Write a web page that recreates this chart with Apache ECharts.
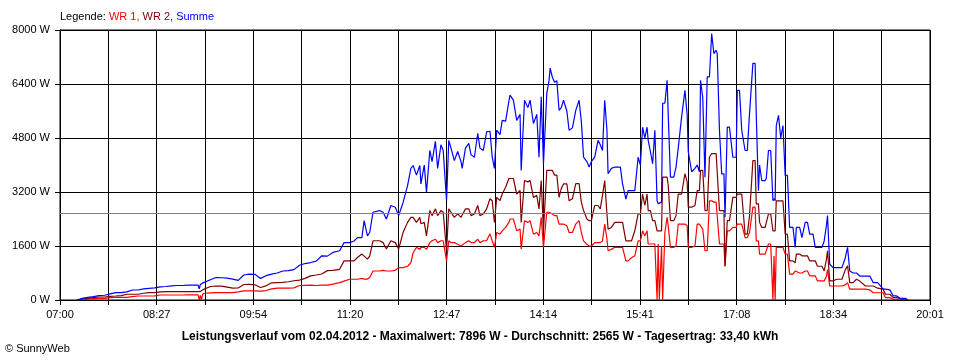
<!DOCTYPE html>
<html>
<head>
<meta charset="utf-8">
<script src="https://cdn.jsdelivr.net/npm/echarts@6/dist/echarts.min.js"></script>
<style>
html,body{margin:0;padding:0;background:#fff;}
#chart{width:960px;height:360px;}
</style>
</head>
<body>
<div id="chart"></div>
<script>
// ---- tick labels ----
const xTickLabels = ['07:00','08:27','09:54','11:20','12:47','14:14','15:41','17:08','18:34','20:01'];
const axisSpanMinutes = 781;      // 07:00 .. 20:01
const axisDivisions = 18;         // vertical grid lines
const yMax = 8000;
const yInterval = 1600;

// ---- data: minutes after 07:00 ----
const minutes = [
  15,20,25,30,35,40,45,50,55,60,
  65,70,75,80,85,90,95,100,105,110,
  115,120,124,125,126,127,128,130,135,140,
  145,150,155,160,165,170,175,180,185,190,
  195,200,205,210,215,220,225,230,235,240,
  245,
  251,255,260,264,267,271,273,276,278,281,
  287,290,293,297,301,304,308,312,315,317,
  320,323,324,327,329,332,334,337,339,342,
  344,347,349,351,354,357,360,361,364,367,
  369,372,375,377,380,383,386,388,390,392,
  395,397,400,403,404,407,410,413,414,417,
  420,422,425,428,430,432,434,437,439,440,
  442,444,446,448,450,452,455,457,460,463,
  466,468,470,473,475,477,480,483,485,487,
  489,491,492,495,498,501,503,505,508,510,
  513,516,519,521,523,525,527,528,530,532,
  534,536,537,538,540,541,543,545,546,548,
  551,553,555,558,561,563,564,567,570,572,
  574,575,577,579,581,583,585,587,589,590,
  592,594,596,597,598,599,601,604,607,608,
  610,612,615,617,619,622,624,625,627,628,
  630,633,634,636,638,640,641,642,643,645,
  647,649,651,653,655,658,660,661,664,666,
  669,671,673,676,678,680,684,686,688,689,
  691,694,697,702,705,707,709,712,715,718,
  723,727,730,734,739,741,745,748,751,754,
  759,761
];

// WR 1 (W)
const wr1 = [
  0,20,30,40,50,50,70,80,80,80,
  100,119,119,119,125,148,148,148,148,148,
  150,150,150,0,140,0,170,200,210,220,
  220,220,220,240,270,270,270,265,280,330,
  350,350,350,360,430,435,440,430,440,440,
  470,
  515,560,615,615,615,640,620,620,665,860,
  860,880,860,860,880,960,960,1000,1110,1400,
  1560,1500,1560,1560,1500,1700,1755,1800,1700,1755,
  1755,1160,1755,1700,1700,1650,1600,1600,1700,1755,
  1700,1700,1800,1700,1755,1760,1960,1750,1560,2000,
  1950,2050,2150,2300,2400,2400,2050,2100,1510,2350,
  2300,2350,1950,2000,1900,2450,1560,2600,2600,2600,
  2550,2500,2500,2250,2250,2250,2200,2000,2000,2250,
  2350,2000,1750,1650,1600,1600,1700,1700,1700,1750,
  2250,1800,1460,1500,1560,1560,1560,1560,1160,1160,
  1250,1310,1750,1750,2050,1900,2050,1660,1660,1660,
  1660,0,1660,0,1600,0,2000,2450,2200,1560,
  1560,1600,2250,2250,2250,2200,1560,1560,1600,2250,
  2250,2250,2100,1460,1460,2940,2940,2900,2900,2900,
  1660,1660,1660,1000,1000,2050,2050,2150,2150,2250,
  2250,2250,1850,1850,2000,2750,2750,1750,1750,1360,
  1360,1360,1400,1660,1660,0,1300,0,1560,1560,
  1560,1560,1360,1360,765,765,860,860,800,800,
  860,860,715,715,715,565,565,565,700,900,
  415,415,415,415,450,515,320,320,320,320,
  320,300,215,215,215,70,70,20,20,20,
  10,0
];

// WR 2 (W)
const wr2 = [
  0,30,50,70,89,89,110,119,130,170,
  170,170,200,217,217,240,247,247,247,247,
  250,250,250,240,255,250,300,330,400,415,
  410,380,350,355,460,465,450,370,420,510,
  515,520,540,570,590,640,715,740,770,870,
  880,
  910,1160,1160,1160,1260,1360,1300,1210,1300,1755,
  1755,1700,1510,1755,1700,1510,2000,2300,2450,2450,
  2300,2450,2260,2300,1900,2650,2500,2700,2500,2650,
  2600,1460,2700,2600,2450,2550,2450,2400,2700,2700,
  2500,2550,2800,2500,2550,2700,3000,2940,2300,3040,
  2950,3140,3340,3600,3640,3600,3140,3250,2300,3540,
  3500,3540,3040,3100,2700,3540,2050,3840,3840,3800,
  3840,3700,3700,3040,3300,3440,3440,2940,3000,3450,
  3450,2900,2650,2400,2350,2350,2800,2800,2700,3100,
  3540,2550,2100,2150,2300,2300,2300,2300,1750,1750,
  1750,2050,2550,2550,3140,2800,3140,2650,2650,2350,
  2350,2050,2050,2050,2050,3640,3640,3640,3400,2350,
  2350,2500,3140,3140,3740,3500,2750,2750,2800,3240,
  3240,3840,3840,2650,2650,4230,4340,4340,4340,4300,
  2650,2650,2650,1000,1000,2350,2350,3040,3040,3140,
  3140,3140,1950,1950,2500,4130,4130,2850,2850,2300,
  2150,2150,2200,2550,2550,2050,2050,2050,2940,2940,
  2940,2940,1950,1950,1160,1160,1100,1360,1360,1310,
  1310,1310,1160,1160,1160,1000,1000,860,1200,1460,
  565,565,615,615,900,1010,515,515,615,560,
  415,415,415,350,320,170,170,70,70,50,
  20,0
];

// Summe (W)
const summe = [
  0,50,80,100,128,140,180,217,217,240,
  296,296,330,346,360,390,400,420,430,430,
  440,440,440,330,460,420,500,530,600,665,
  660,650,620,580,740,765,760,640,720,765,
  800,860,870,900,1030,1080,1110,1150,1310,1300,
  1410,
  1460,1700,1700,1750,1850,1850,2350,1900,2000,2600,
  2650,2600,2400,2800,2750,2500,2890,3390,3900,3985,
  3700,3985,3440,4000,3190,4430,4100,4700,3900,4600,
  4430,2940,4730,4500,4130,4400,4100,3900,4500,4640,
  4300,4230,4940,4500,4430,4980,5000,4230,3900,5030,
  4900,5320,5300,5900,6070,5920,5320,5500,3840,5920,
  5700,5920,5230,5500,4230,6020,4040,6120,6500,6870,
  6600,6450,6500,5620,5700,5920,5600,5030,5100,5620,
  5920,5300,4230,4100,3940,4100,4230,4730,4600,4430,
  5920,5030,3740,3900,3940,3940,3940,3440,2990,3240,
  3240,3240,4230,4000,5120,4800,5120,4730,4400,4040,
  5030,2940,2850,2850,2900,5830,5830,6510,5500,3640,
  3640,3940,4500,5420,6210,5500,4400,3800,3900,4000,
  3800,6510,6000,3640,6610,6610,7896,7300,7400,7300,
  5030,3740,3740,2450,2450,5120,5120,4230,4230,6210,
  6210,5030,4430,4430,5530,7010,7010,5530,3240,4000,
  3540,3540,3600,4430,4430,2940,3000,2940,5170,5470,
  4800,5170,3690,3690,2150,2150,1560,2150,2150,1850,
  2300,2300,1950,1950,1560,1560,1560,1750,2200,2500,
  1060,960,960,960,1260,1560,860,800,800,710,
  710,710,515,515,320,320,300,120,120,50,
  50,0
];

const averageW = 2565;
const legendParts = ['Legende: ', 'WR 1, ', 'WR 2, ', 'Summe'];
const footerText = 'Leistungsverlauf vom 02.04.2012 - Maximalwert: 7896 W - Durchschnitt: 2565 W - Tagesertrag: 33,40 kWh';
const copyrightText = '\u00A9 SunnyWeb';

// ---- chart ----
const FONT = '"Liberation Sans", Arial, sans-serif';
const stepMin = axisSpanMinutes / axisDivisions;
function toPoints(vals) {
  return minutes.map((m, i) => [m / stepMin, vals[i]]);
}

const chart = echarts.init(document.getElementById('chart'), null, {renderer: 'canvas'});
const lineBase = {type: 'line', showSymbol: false, symbol: 'none', animation: false, silent: true};

chart.setOption({
  animation: false,
  backgroundColor: '#ffffff',
  textStyle: {fontFamily: FONT},
  title: [
    {
      left: 60, top: 11, padding: 0,
      text: '{k|' + legendParts[0] + '}{a|' + legendParts[1] + '}{b|' + legendParts[2] + '}{c|' + legendParts[3] + '}',
      textStyle: {
        fontFamily: FONT, fontSize: 11, fontWeight: 'normal',
        rich: {
          k: {color: '#000000', fontFamily: FONT, fontSize: 11},
          a: {color: '#ff0000', fontFamily: FONT, fontSize: 11},
          b: {color: '#800000', fontFamily: FONT, fontSize: 11},
          c: {color: '#0000ff', fontFamily: FONT, fontSize: 11}
        }
      }
    },
    {
      left: 'center', top: 331, padding: 0,
      text: footerText,
      textStyle: {fontFamily: FONT, fontSize: 12, fontWeight: 'bold', color: '#000'}
    },
    {
      left: 5, top: 343, padding: 0,
      text: copyrightText,
      textStyle: {fontFamily: FONT, fontSize: 11, fontWeight: 'normal', color: '#000'}
    }
  ],
  grid: {left: 60, right: 30, top: 30, bottom: 60, show: true, borderColor: '#000', borderWidth: 1, backgroundColor: 'transparent'},
  xAxis: {
    type: 'value', min: 0, max: axisDivisions, interval: 1,
    axisLine: {show: true, lineStyle: {color: '#000', width: 1}},
    axisTick: {show: true, length: 5, lineStyle: {color: '#000'}},
    axisLabel: {
      show: true, interval: 0, margin: 9, color: '#000', fontFamily: FONT, fontSize: 11,
      showMinLabel: true, showMaxLabel: true,
      formatter: function (v) {
        const i = Math.round(v);
        return (i % 2 === 0) ? xTickLabels[i / 2] : '';
      }
    },
    splitLine: {show: true, lineStyle: {color: '#000', width: 1}}
  },
  yAxis: {
    type: 'value', min: 0, max: yMax, interval: yInterval,
    axisLine: {show: true, lineStyle: {color: '#000', width: 1}},
    axisTick: {show: true, length: 5, lineStyle: {color: '#000'}},
    axisLabel: {color: '#000', fontFamily: FONT, fontSize: 11, margin: 10, formatter: v => v + ' W'},
    splitLine: {show: true, lineStyle: {color: '#000', width: 1}}
  },
  series: [
    Object.assign({}, lineBase, {name: 'WR 1', data: toPoints(wr1), lineStyle: {color: '#ff0000', width: 1.2}, itemStyle: {color: '#ff0000'}}),
    Object.assign({}, lineBase, {name: 'WR 2', data: toPoints(wr2), lineStyle: {color: '#800000', width: 1.2}, itemStyle: {color: '#800000'}}),
    Object.assign({}, lineBase, {
      name: 'Summe', data: toPoints(summe), lineStyle: {color: '#0000ff', width: 1.2}, itemStyle: {color: '#0000ff'},
      markLine: {
        silent: true, symbol: ['none', 'none'], label: {show: false},
        lineStyle: {color: '#808080', type: 'solid', width: 1},
        data: [{yAxis: averageW}]
      }
    })
  ]
});
</script>
</body>
</html>
